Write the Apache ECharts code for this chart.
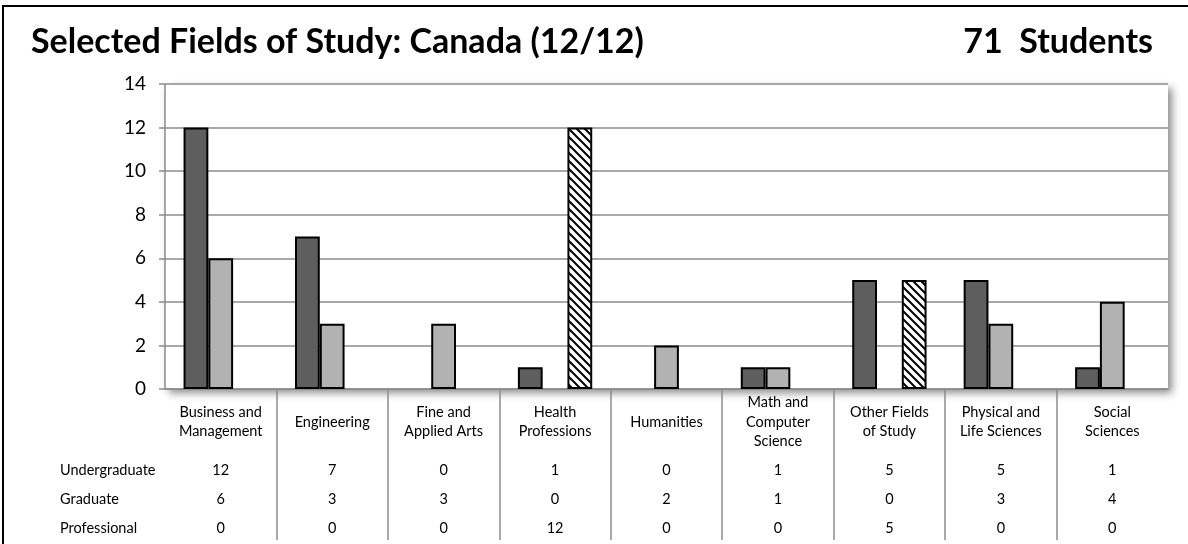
<!DOCTYPE html>
<html>
<head>
<meta charset="utf-8">
<script src="https://cdn.jsdelivr.net/npm/echarts@6/dist/echarts.min.js"></script>
<style>
  html, body { margin: 0; padding: 0; background: #fff; }
  #chart { width: 1188px; height: 544px; }
</style>
</head>
<body>
<div id="chart"></div>
<script>
const categories = [
  "Business and\nManagement", "Engineering", "Fine and\nApplied Arts", "Health\nProfessions",
  "Humanities", "Math and\nComputer\nScience", "Other Fields\nof Study", "Physical and\nLife Sciences", "Social\nSciences"
];
const seriesNames = ["Undergraduate", "Graduate", "Professional"];
const undergraduate = [12, 7, 0, 1, 0, 1, 5, 5, 1];
const graduate = [6, 3, 3, 0, 2, 1, 0, 3, 4];
const professional = [0, 0, 0, 12, 0, 0, 5, 0, 0];
const yTicks = [0, 2, 4, 6, 8, 10, 12, 14];
const totalStudents = 71;

const FONT = "Lato, 'Open Sans', sans-serif";

// diagonal hatch for the professional bars
function hatch() {
  const c = document.createElement("canvas");
  c.width = 8; c.height = 8;
  const g = c.getContext("2d");
  g.fillStyle = "#fff";
  g.fillRect(0, 0, 8, 8);
  g.strokeStyle = "#000";
  g.lineWidth = 2;
  g.beginPath();
  g.moveTo(-2, -2); g.lineTo(10, 10);
  g.moveTo(-2, 6); g.lineTo(2, 10);
  g.moveTo(6, -2); g.lineTo(10, 2);
  g.stroke();
  return c;
}

const chart = echarts.init(document.getElementById("chart"), null, { renderer: "canvas" });
const rows = [undergraduate, graduate, professional];
const rowY = [81, 110, 139];
const noZero = (arr) => arr.map((v) => (v === 0 ? null : v));

const tableAxes = rows.map((vals, i) => ({
  type: "category",
  gridIndex: 0,
  position: "bottom",
  data: vals.map(String),
  axisLine: { show: false },
  axisTick: { show: false },
  axisLabel: { interval: 0, margin: rowY[i], verticalAlign: "middle", color: "#000", fontSize: 14.5, fontFamily: FONT },
}));

chart.setOption({
  animation: false,
  textStyle: { fontFamily: FONT },
  graphic: [
    { type: "rect", shape: { x: 3, y: 6, width: 1200, height: 600 }, style: { fill: "none", stroke: "#000", lineWidth: 2 } },
    { type: "text", left: 31, top: 25, style: { text: "Selected Fields of Study: Canada (12/12)", font: "bold 34px " + FONT, fill: "#000" } },
    { type: "text", right: 35, top: 25, style: { text: totalStudents + "  Students", font: "bold 34px " + FONT, fill: "#000", align: "right" } },
    ...seriesNames.map((n, i) => ({
      type: "text", x: 60, y: 389 + rowY[i],
      style: { text: n, font: "14.5px " + FONT, fill: "#000", verticalAlign: "middle" },
    })),
  ],
  grid: [
    { left: 165, right: 20, top: 84, bottom: 155, show: true, backgroundColor: "#fff", borderWidth: 0,
      shadowColor: "rgba(0,0,0,0.45)", shadowBlur: 8, shadowOffsetX: 4, shadowOffsetY: 4 },
    { left: 165, right: 20, top: 389, height: 151 },
  ],
  xAxis: [
    {
      type: "category",
      gridIndex: 0,
      data: categories,
      axisLine: { show: true, lineStyle: { color: "#8c8c8c", width: 1.5 } },
      axisTick: { show: false },
      axisLabel: { interval: 0, margin: 33, verticalAlign: "middle", lineHeight: 19.5, color: "#000", fontSize: 14.5, fontFamily: FONT },
    },
    ...tableAxes,
    {
      type: "category",
      gridIndex: 1,
      data: categories,
      axisLine: { show: false },
      axisTick: { show: false },
      axisLabel: { show: false },
      splitLine: { show: true, showMinLine: false, showMaxLine: false, lineStyle: { color: "#8c8c8c", width: 1.5 } },
    },
  ],
  yAxis: [
    {
      type: "value",
      gridIndex: 0,
      min: yTicks[0],
      max: yTicks[yTicks.length - 1],
      interval: 2,
      axisLine: { show: true, lineStyle: { color: "#8c8c8c", width: 1.5 } },
      axisTick: { show: true, length: 6, lineStyle: { color: "#8c8c8c", width: 1.5 } },
      splitLine: { show: true, lineStyle: { color: "#8c8c8c", width: 1.5 } },
      axisLabel: { color: "#000", fontSize: 19, margin: 19, fontFamily: FONT },
    },
    { type: "value", gridIndex: 1, show: false },
  ],
  series: [
    {
      name: seriesNames[0], type: "bar", xAxisIndex: 0, yAxisIndex: 0,
      barGap: "0%", barCategoryGap: "33.3%",
      data: noZero(undergraduate),
      itemStyle: { color: "#5e5e5e", borderColor: "#000", borderWidth: 2 },
    },
    {
      name: seriesNames[1], type: "bar", xAxisIndex: 0, yAxisIndex: 0,
      data: noZero(graduate),
      itemStyle: { color: "#b2b2b2", borderColor: "#000", borderWidth: 2 },
    },
    {
      name: seriesNames[2], type: "bar", xAxisIndex: 0, yAxisIndex: 0,
      data: noZero(professional),
      itemStyle: { color: { image: hatch(), repeat: "repeat" }, borderColor: "#000", borderWidth: 2 },
    },
  ],
});
</script>
</body>
</html>
